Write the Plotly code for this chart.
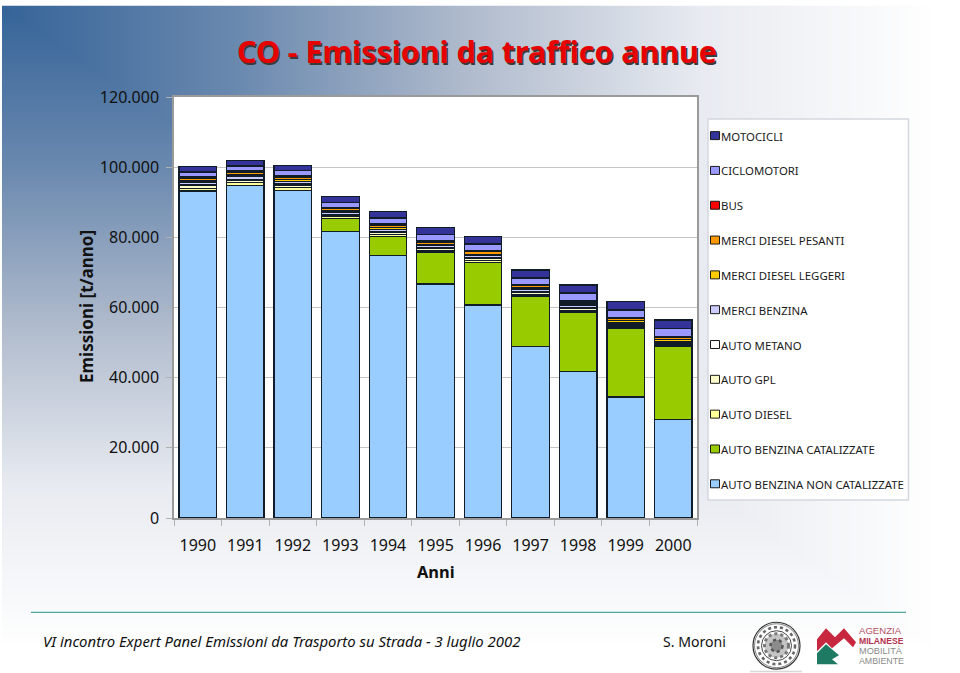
import base64, struct, zlib
import numpy as np
import plotly.graph_objects as go

years = ["1990","1991","1992","1993","1994","1995","1996","1997","1998","1999","2000"]
auto_non_cat = [93200,94800,93400,81700,74900,66700,60700,48800,41700,34500,28000]
auto_cat     = [0,0,0,3700,5400,9100,12200,14500,17000,19700,20800]
auto_diesel  = [800,800,800,500,500,500,500,500,500,500,500]
auto_gpl     = [700,700,700,500,500,500,500,500,500,400,400]
auto_metano  = [300,200,300,200,200,200,200,200,200,200,200]
merci_benz   = [700,800,800,600,800,600,700,700,700,500,500]
merci_legg   = [400,500,400,400,500,400,400,400,400,400,400]
merci_pes    = [800,800,800,600,600,700,700,600,600,600,600]
bus          = [500,500,500,400,400,400,400,400,400,400,400]
ciclomotori  = [1200,1200,1300,1400,1700,1700,1800,1800,2100,2100,2200]
motocicli    = [1600,1600,1500,1700,1900,2100,2200,2300,2300,2500,2400]

series_names = ["AUTO BENZINA NON CATALIZZATE","AUTO BENZINA CATALIZZATE","AUTO DIESEL","AUTO GPL","AUTO METANO",
                "MERCI BENZINA","MERCI DIESEL LEGGERI","MERCI DIESEL PESANTI","BUS","CICLOMOTORI","MOTOCICLI"]
series_vals = [auto_non_cat,auto_cat,auto_diesel,auto_gpl,auto_metano,merci_benz,merci_legg,merci_pes,bus,ciclomotori,motocicli]
series_cols = ["#99CCFF","#99CC00","#FFFF99","#FFFFCC","#FFFFFF","#CCCCFF","#FFCC00","#FF9900","#FF0000","#9999FF","#333399"]

FONT = "Noto Sans"
W, H = 960, 673
L, R, T, B = 174, 697, 96.5, 518.5
px = lambda x: (x - L) / (R - L)
py = lambda y: (B - y) / (B - T)

# page background: corner gradient
def gradient_png():
    yy, xx = np.mgrid[0:H, 0:W]
    t = np.clip(np.maximum((xx - 2) / 930, (yy - 5) / 640), 0, 1)
    stops = np.array([0, .25, .5, .75, 1.0])
    cols = np.array([[54,100,153],[106,137,175],[176,187,205],[232,235,241],[255,255,255]], float)
    img = np.stack([np.interp(t, stops, cols[:, i]) for i in range(3)], axis=-1)
    img[:5, :] = 255; img[:, :2] = 255
    img = img.astype(np.uint8)
    raw = b"".join(b"\x00" + img[r].tobytes() for r in range(H))
    def chunk(tag, data):
        c = struct.pack(">I", len(data)) + tag + data
        return c + struct.pack(">I", zlib.crc32(tag + data) & 0xffffffff)
    png = b"\x89PNG\r\n\x1a\n" + chunk(b"IHDR", struct.pack(">IIBBBBB", W, H, 8, 2, 0, 0, 0)) + chunk(b"IDAT", zlib.compress(raw, 9)) + chunk(b"IEND", b"")
    return "data:image/png;base64," + base64.b64encode(png).decode()

fig = go.Figure()
for name, vals, col in zip(series_names, series_vals, series_cols):
    fig.add_bar(x=years, y=vals, name=name, marker=dict(color=col, line=dict(color="#101c28", width=1.3)), showlegend=False)

shapes, ann = [], []
# white plot area above the page image, below the gridlines
shapes.append(dict(type="rect", xref="x domain", yref="y domain", x0=0, x1=1, y0=0, y1=1, fillcolor="#FFFFFF", line=dict(width=0), layer="below"))
def rect(x0, y0, x1, y1, fill, line="rgba(0,0,0,0)", w=1):
    shapes.append(dict(type="rect", xref="paper", yref="paper", x0=px(x0), x1=px(x1), y0=py(y0), y1=py(y1),
                       fillcolor=fill, line=dict(color=line, width=w), layer="above"))
def text(x, y, s, size, color="#111", anchor="left", **kw):
    font = dict(family=kw.pop("family", FONT), size=size, color=color)
    for k in ("weight", "style", "shadow"):
        if k in kw: font[k] = kw.pop(k)
    ann.append(dict(xref="paper", yref="paper", x=px(x), y=py(y), text=s, showarrow=False, xanchor=anchor, yanchor="middle",
                    font=font, align=anchor, **kw))

# legend box
rect(708, 118.5, 908.5, 500.5, "#FFFFFF", "#D4D8DE", 1.5)
legend_y0, legend_step = 135.2, 34.9
for i, (name, col) in enumerate(zip(series_names[::-1], series_cols[::-1])):
    y = legend_y0 + i * legend_step
    rect(710.5, y - 4, 719.5, y + 4, col, "#1a1a1a", 1)
    text(719, y + 0.5, name, 11.4, color="#1a1a1a")

# titles and footer
text(477, 50.5, "CO - Emissioni da traffico annue", 30.4, color="#E60000", anchor="center", weight=700, shadow="1.5px 1.5px 0 #3a3a3a")
text(86, 307, "Emissioni [t/anno]", 17, anchor="center", weight=700, textangle=-90)
text(435.5, 572, "Anni", 16.4, anchor="center", weight=700)
shapes.append(dict(type="line", xref="paper", yref="paper", x0=px(31), x1=px(906), y0=py(613), y1=py(613), line=dict(color="#4FA69C", width=1.2)))
text(41, 642, "VI incontro Expert Panel Emissioni da Trasporto su Strada - 3 luglio 2002", 14.9, style="italic")
text(661, 642, "S. Moroni", 14.1)

# seal
cx, cy = 776.5, 646.5
def ring(r, w, color="#333", dash="solid", fill="rgba(0,0,0,0)"):
    shapes.append(dict(type="circle", xref="paper", yref="paper", x0=px(cx - r), x1=px(cx + r), y0=py(cy - r), y1=py(cy + r),
                       line=dict(color=color, width=w, dash=dash), fillcolor=fill))
ring(23.5, 1.2); ring(22, .6); ring(18.5, 2.6, "#666", "dot"); ring(15, .9)
ring(12, 3, "#777", "dot", "rgba(90,90,90,.35)"); ring(6, 2.5, "#555", "dot", "rgba(70,70,70,.45)")
rect(750, 671.5, 802, 673, "#D8D8D8")

# agency logo
def poly(points, fill):
    d = "M" + " L".join(f"{px(x):.5f},{py(y):.5f}" for x, y in points) + " Z"
    shapes.append(dict(type="path", xref="paper", yref="paper", path=d, fillcolor=fill, line=dict(width=0)))
poly([(817,640),(826,629),(835,638),(844,629),(856,643),(853,648),(844,639),(832,649),(826,643),(817,652)], "#C8283F")
poly([(817,654),(826,645),(839,656),(832,660),(838,665),(817,665)], "#1E7A63")
for i, (s, c, w, fs) in enumerate(zip(["AGENZIA", "MILANESE", "MOBILITÀ", "AMBIENTE"], ["#B5506A", "#B5304C", "#8A8A8A", "#8A8A8A"],
                                      [400, 700, 400, 400], [9.6, 8.6, 9.2, 8.8])):
    text(857.5, 632 + i * 9.8, s, fs, color=c, family="Liberation Sans", weight=w, height=9.6, borderpad=0)

fig.update_layout(
    width=W, height=H, barmode="stack", bargap=0.21, autosize=False,
    margin=dict(l=L, r=W - R, t=T, b=H - B, pad=0), separators=",.",
    paper_bgcolor="#FFFFFF", plot_bgcolor="#FFFFFF", font=dict(family=FONT, size=16, color="#111"),
    images=[dict(source=gradient_png(), xref="paper", yref="paper", x=px(0), y=py(0), sizex=W / (R - L), sizey=H / (B - T),
                 xanchor="left", yanchor="top", sizing="stretch", layer="below")],
    shapes=shapes, annotations=ann,
    xaxis=dict(type="category", tickson="boundaries", ticks="outside", ticklen=6, tickcolor="#B0B0B0", ticklabelstandoff=12,
               showline=True, linecolor="#9A9A9A", linewidth=1.5, mirror=True, showgrid=False, tickfont=dict(size=16, color="#111")),
    yaxis=dict(range=[0, 120000], dtick=20000, tickformat=",d", ticks="outside", ticklen=6, tickcolor="#B0B0B0",
               showline=True, linecolor="#9A9A9A", linewidth=1.5, mirror=True, showgrid=True, gridcolor="#C4C4C4", gridwidth=1,
               zeroline=False, tickfont=dict(size=16, color="#111"), ticklabelstandoff=4),
)
fig.write_html("out.html", config=dict(displayModeBar=False), post_script="document.body.style.margin='0';document.documentElement.style.overflow='hidden';")
